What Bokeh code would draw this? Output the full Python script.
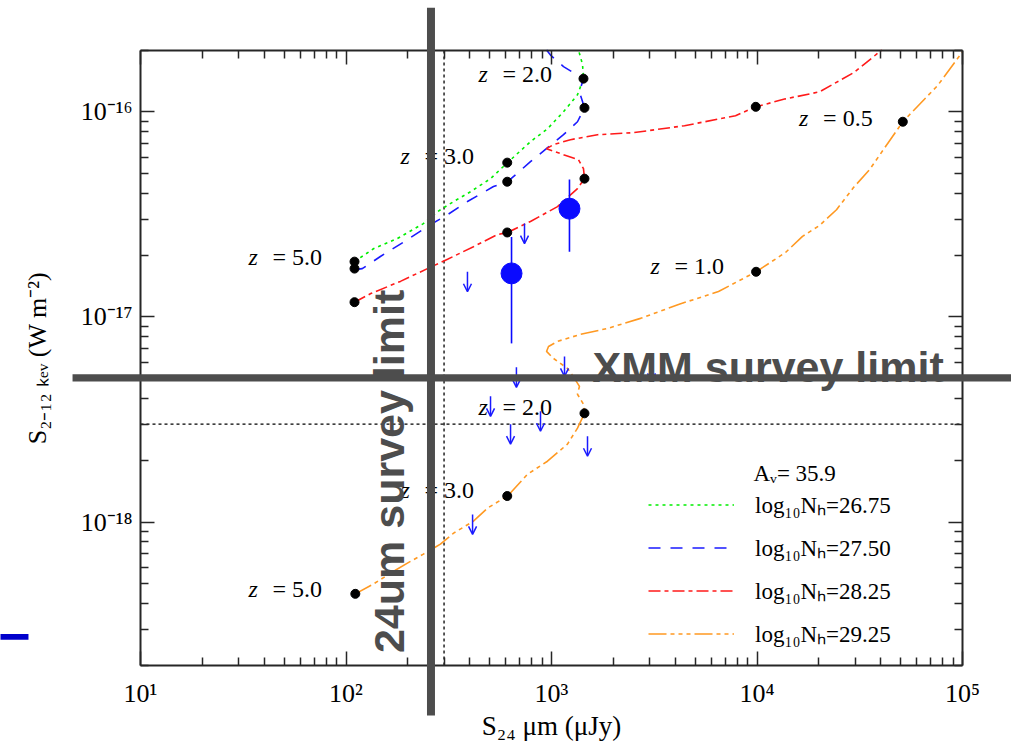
import math
from bokeh.plotting import figure
from bokeh.models import (ColumnDataSource, Range1d, LogAxis, FixedTicker, CustomJSTickFormatter,
                          Label, BoxAnnotation, Arrow, OpenHead, Legend, LegendItem)
from bokeh.core.properties import value
from bokeh.embed import file_html
from bokeh.resources import INLINE

# ---------------- data (S24 in microJy, S2-12keV in W m^-2) ----------------
nh2675_s24 = [110, 136, 178, 238, 279, 334, 404, 505, 611, 790, 956, 1144, 1338, 1431, 1416, 1353]
nh2675_sx = [1.86e-17, 2.15e-17, 2.41e-17, 2.85e-17, 3.26e-17, 3.65e-17, 4.08e-17, 4.72e-17, 5.65e-17,
             7.15e-17, 8.26e-17, 1.0e-16, 1.21e-16, 1.45e-16, 1.70e-16, 2.0e-16]

nh2750_s24 = [110, 120, 147, 199, 258, 312, 390, 522, 611, 790, 1144, 1338, 1447, 1368, 1431, 1309,
              1144, 989, 946]
nh2750_sx = [1.70e-17, 1.72e-17, 1.97e-17, 2.38e-17, 2.82e-17, 3.15e-17, 3.65e-17, 4.32e-17, 4.56e-17,
             5.71e-17, 7.73e-17, 8.94e-17, 1.045e-16, 1.25e-16, 1.45e-16, 1.53e-16, 1.66e-16, 1.89e-16,
             2.0e-16]

nh2825_s24 = [110, 132, 184, 249, 312, 417, 546, 611, 790, 1070, 1338, 1447, 1431, 1353, 1144, 946,
              1022, 1237, 1674, 2506, 4439, 7862, 9863, 13760, 20140, 29480, 40500]
nh2825_sx = [1.18e-17, 1.30e-17, 1.49e-17, 1.72e-17, 1.91e-17, 2.20e-17, 2.52e-17, 2.58e-17, 2.92e-17,
             3.45e-17, 4.22e-17, 4.72e-17, 5.28e-17, 5.84e-17, 6.18e-17, 6.61e-17, 6.91e-17, 7.31e-17,
             7.73e-17, 7.91e-17, 8.55e-17, 9.57e-17, 1.057e-16, 1.156e-16, 1.25e-16, 1.55e-16, 2.0e-16]

nh2925_s24 = [111, 136, 165, 199, 238, 288, 334, 417, 488, 611, 764, 956, 1196, 1338, 1447, 1431, 1338,
              1368, 1265, 1196, 1022, 946, 967, 1070, 1384, 1873, 2711, 4150, 6497, 9900, 13760, 16650,
              20140, 24370, 29480, 35270, 51230, 75570, 100000]
nh2925_sx = [4.47e-19, 4.99e-19, 5.65e-19, 6.31e-19, 6.98e-19, 7.81e-19, 8.84e-19, 1.01e-18, 1.17e-18,
             1.34e-18, 1.71e-18, 1.98e-18, 2.40e-18, 2.87e-18, 3.39e-18, 3.75e-18, 4.20e-18, 4.59e-18,
             5.19e-18, 5.61e-18, 6.28e-18, 6.79e-18, 7.18e-18, 7.60e-18, 8.22e-18, 8.79e-18, 9.84e-18,
             1.15e-17, 1.33e-17, 1.66e-17, 2.06e-17, 2.47e-17, 2.79e-17, 3.33e-17, 4.27e-17, 5.22e-17,
             8.94e-17, 1.34e-16, 1.96e-16]

# redshift marker dots on each track
zdot_s24 = [110, 609, 1431, 110, 609, 1447, 110, 609, 1447, 9863, 111, 609, 1447, 9900, 51230]
zdot_sx = [1.86e-17, 5.65e-17, 1.45e-16, 1.72e-17, 4.56e-17, 1.045e-16, 1.18e-17, 2.58e-17, 4.72e-17,
           1.057e-16, 4.47e-19, 1.34e-18, 3.39e-18, 1.66e-17, 8.94e-17]

# redshift labels
zlab_text = ["= 2.0", "= 3.0", "= 5.0", "= 2.0", "= 3.0", "= 5.0", "= 1.0", "= 0.5"]
zlab_s24 = [441, 184, 33.5, 441, 184, 33.5, 3033, 16030]
zlab_sx = [1.53e-16, 6.09e-17, 1.97e-17, 3.63e-18, 1.43e-18, 4.71e-19, 1.78e-17, 9.37e-17]

# detections with error bars
det_s24 = [1223, 639]
det_sx = [3.37e-17, 1.63e-17]
det_lo = [2.08e-17, 7.43e-18]
det_hi = [4.67e-17, 2.45e-17]

# X-ray upper limits
ul_s24 = [739, 390, 675, 1157, 3066, 505, 884, 632, 1497, 413]
ul_sx = [2.85e-17, 1.66e-17, 5.68e-18, 6.42e-18, 6.07e-18, 4.10e-18, 3.47e-18, 3.0e-18, 2.62e-18, 1.09e-18]

# survey limits
xmm_limit = 3e-18
mips_limit = 300

legend_labels = ["log\u2081\u2080N\u2095=26.75", "log\u2081\u2080N\u2095=27.50",
                 "log\u2081\u2080N\u2095=28.25", "log\u2081\u2080N\u2095=29.25"]
av_text = "A\u1d65= 35.9"

x_lim = (10, 1e5)
y_lim = (2e-19, 2e-16)
x_major = [10, 100, 1000, 10000, 100000]
y_major = [1e-18, 1e-17, 1e-16]
mantissas = [2, 3, 4, 5, 6, 7, 8, 9]

# ---------------- geometry: plot box inside a full-canvas frame ----------------
W, H = 1011, 744
BOX_L, BOX_R, BOX_T, BOX_B = 140, 962, 49.5, 665
lx0, lx1 = math.log10(x_lim[0]), math.log10(x_lim[1])
ly0, ly1 = math.log10(y_lim[0]), math.log10(y_lim[1])
dx = (lx1 - lx0) / (BOX_R - BOX_L)
dy = (ly1 - ly0) / (BOX_B - BOX_T)
x_range = Range1d(10 ** (lx0 - BOX_L * dx), 10 ** (lx1 + (W - BOX_R) * dx))
y_range = Range1d(10 ** (ly0 - (H - BOX_B) * dy), 10 ** (ly1 + BOX_T * dy))

SERIF = "Liberation Serif"
AXC = "#262626"

p = figure(x_axis_type="log", y_axis_type="log", x_range=x_range, y_range=y_range,
           x_axis_location=None, y_axis_location=None,
           width=W, height=H, min_border=0,
           output_backend="svg", toolbar_location=None,
           background_fill_color="white", border_fill_color="white", outline_line_color=None)
p.grid.visible = False

x_minor = [m * t for t in x_major[:-1] for m in mantissas]
y_minor = [m * t for t in [1e-19] + y_major for m in mantissas if y_lim[0] <= m * t <= y_lim[1]]

fmt = CustomJSTickFormatter(code="""
const sup = {"0":"\u2070","1":"\u00b9","2":"\u00b2","3":"\u00b3","4":"\u2074","5":"\u2075",
             "6":"\u2076","7":"\u2077","8":"\u2078","9":"\u2079","-":"\u207b"};
const e = Math.round(Math.log10(tick));
return "10" + String(e).split("").map(c => sup[c]).join("");
""")
blank = CustomJSTickFormatter(code="return '';")

def make_axis(ticks, minor, bounds, loc, labels):
    ax = LogAxis(fixed_location=loc, bounds=bounds)
    ax.ticker = FixedTicker(ticks=ticks, minor_ticks=minor)
    ax.formatter = fmt if labels else blank
    ax.major_tick_in = 14
    ax.major_tick_out = 0
    ax.minor_tick_in = 8
    ax.minor_tick_out = 0
    ax.axis_line_color = AXC
    ax.axis_line_width = 2
    ax.major_tick_line_color = AXC
    ax.minor_tick_line_color = AXC
    ax.major_tick_line_width = 1.5
    ax.minor_tick_line_width = 1.5
    ax.major_label_text_font = SERIF
    ax.major_label_text_font_size = "26px" if labels else "1px"
    ax.major_label_text_color = "black"
    ax.axis_label_text_font = SERIF
    ax.axis_label_text_font_style = "normal"
    ax.axis_label_text_font_size = "26px"
    ax.axis_label_text_color = "black"
    return ax

xb = make_axis(x_major, x_minor, x_lim, y_lim[0], True)
xb.major_label_standoff = 13
xb.axis_label = "S\u2082\u2084 \u03bcm (\u03bcJy)"
xb.axis_label_standoff = 0
xb.axis_label_text_font_size = "27px"
yl = make_axis(y_major, y_minor, y_lim, x_lim[0], True)
yl.major_label_standoff = 8
yl.axis_label = "S\u2082\u208b\u2081\u2082 \u2096\u2091\u1d65 (W m\u207b\u00b2)"
yl.axis_label_standoff = 26
xt = make_axis(x_major, x_minor, x_lim, y_lim[1], False)
yr = make_axis(y_major, y_minor, y_lim, x_lim[1], False)
p.add_layout(xb, "below")
p.add_layout(yl, "left")
p.add_layout(xt, "above")
p.add_layout(yr, "right")

# survey limit dotted lines across the plot box
p.segment(x0=[mips_limit], y0=[y_lim[0]], x1=[mips_limit], y1=[y_lim[1]],
          line_color="black", line_width=1.3, line_dash="3 3")
p.segment(x0=[x_lim[0]], y0=[xmm_limit], x1=[x_lim[1]], y1=[xmm_limit],
          line_color="black", line_width=1.3, line_dash="3 3")

# model tracks
LW = 1.6
r1 = p.line(nh2675_s24, nh2675_sx, line_color="#00ee00", line_width=LW, line_dash="3 4")
r2 = p.line(nh2750_s24, nh2750_sx, line_color="#1a1aff", line_width=LW, line_dash="12 10")
r3 = p.line(nh2825_s24, nh2825_sx, line_color="#ff1a1a", line_width=LW, line_dash="12 4 4 4")
r4 = p.line(nh2925_s24, nh2925_sx, line_color="#ff9922", line_width=LW, line_dash="18 4 4 4 4 4 4 4")

p.scatter(zdot_s24, zdot_sx, size=9, color="black")

zsrc = ColumnDataSource(dict(x=zlab_s24, y=zlab_sx, t=zlab_text, z=["z"] * len(zlab_text)))
p.text(x="x", y="y", text="z", source=zsrc, text_font=value(SERIF), text_font_style="italic",
       text_font_size="24px", text_baseline="middle", text_align="left", text_color="black")
p.text(x="x", y="y", text="t", source=zsrc, text_font=value(SERIF), text_font_size="24px",
       text_baseline="middle", text_align="left", text_color="black", x_offset=24)

# detections
p.segment(x0=det_s24, y0=det_lo, x1=det_s24, y1=det_hi, line_color="#0a0aff", line_width=1.6)
p.scatter(det_s24, det_sx, size=21, color="#0a0aff")

# upper limits as downward arrows (fixed on-screen arrow length of 20 px)
ARROW_DEX = 20 * dy
ul_src = ColumnDataSource(dict(x=ul_s24, y=ul_sx, ye=[v / 10 ** ARROW_DEX for v in ul_sx]))
p.add_layout(Arrow(end=OpenHead(size=8, line_color="#1a1aff", line_width=1.5),
                   x_start="x", y_start="y", x_end="x", y_end="ye", source=ul_src,
                   line_color="#1a1aff", line_width=1.5))

# legend
legend = Legend(items=[LegendItem(label=legend_labels[i], renderers=[r]) for i, r in enumerate([r1, r2, r3, r4])],
                location=(648, 95), glyph_width=86, glyph_height=25, label_height=25, spacing=11,
                label_standoff=21, padding=0, margin=0, border_line_color=None, background_fill_alpha=0,
                label_text_font=SERIF, label_text_font_size="23px", label_text_color="black")
p.add_layout(legend)
p.add_layout(Label(x=9617, y=1.73e-18, text=av_text, text_font=SERIF, text_font_size="23px",
                   text_baseline="middle", text_align="left", text_color="black"))

# thick grey overlay lines
GREY = "#4d4d4d"
p.add_layout(BoxAnnotation(left=247.8, right=271.0, bottom=1.14e-19, top=3.21e-16,
                           fill_color=GREY, fill_alpha=1, line_alpha=0))
p.add_layout(BoxAnnotation(left=4.67, right=2e5, bottom=4.84e-18, top=5.26e-18,
                           fill_color=GREY, fill_alpha=1, line_alpha=0))
p.add_layout(BoxAnnotation(left=2.0, right=2.85, bottom=2.67e-19, top=2.85e-19,
                           fill_color="#0000cc", fill_alpha=1, line_alpha=0))

p.add_layout(Label(x=1583, y=5.68e-18, text="XMM survey limit", text_font="Liberation Sans",
                   text_font_style="bold", text_font_size="43px", text_color=GREY,
                   text_baseline="alphabetic", text_align="left"))
p.add_layout(Label(x=162.8, y=2.30e-19, text="24um survey limit", text_font="Liberation Sans",
                   text_font_style="bold", text_font_size="43px", text_color=GREY,
                   text_baseline="alphabetic", text_align="left", angle=math.pi / 2))

open("out.html", "w").write(file_html(p, INLINE))
